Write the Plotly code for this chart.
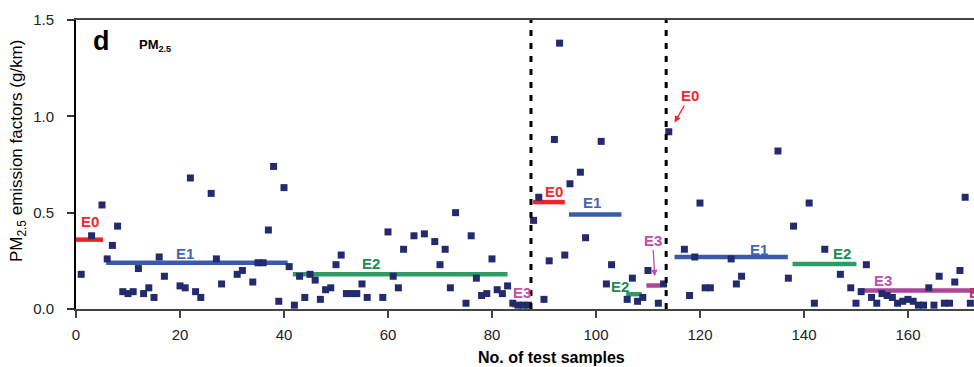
import plotly.graph_objects as go

# ---- data ----
x_samples = [1, 3, 5, 6, 7, 8, 9, 10, 11, 12, 13, 14, 15, 16, 17, 20, 21, 22, 23, 24,
             26, 27, 28, 31, 32, 34, 35, 36, 37, 38, 39, 40, 41, 42, 43, 44, 45, 46, 47, 48,
             49, 50, 51, 52, 53, 54, 55, 56, 59, 60, 61, 62, 63, 65, 67, 69, 70, 71, 72, 73,
             75, 76, 77, 78, 79, 80, 81, 82, 83, 84, 85, 86, 87, 88, 89, 90, 91, 92, 93, 94,
             95, 97, 98, 101, 102, 103, 106, 107, 108, 109, 110, 112, 113, 114, 117, 118, 119, 120, 121, 122,
             126, 127, 128, 135, 137, 138, 141, 142, 144, 147, 149, 150, 151, 152, 153, 154, 155, 156, 157, 158,
             159, 160, 161, 162, 163, 164, 165, 166, 167, 168, 169, 170, 171, 172]
ef_pm25 = [0.18, 0.38, 0.54, 0.26, 0.33, 0.43, 0.09, 0.08, 0.09, 0.21, 0.08, 0.11, 0.06, 0.27, 0.17, 0.12, 0.11, 0.68, 0.09, 0.06,
           0.60, 0.26, 0.13, 0.18, 0.20, 0.14, 0.24, 0.24, 0.41, 0.74, 0.04, 0.63, 0.22, 0.02, 0.17, 0.06, 0.18, 0.15, 0.05, 0.10,
           0.11, 0.23, 0.28, 0.08, 0.08, 0.08, 0.13, 0.06, 0.06, 0.40, 0.17, 0.11, 0.31, 0.38, 0.39, 0.35, 0.23, 0.31, 0.11, 0.50,
           0.03, 0.38, 0.16, 0.07, 0.08, 0.26, 0.10, 0.08, 0.12, 0.03, 0.02, 0.02, 0.02, 0.46, 0.58, 0.05, 0.25, 0.88, 1.38, 0.28,
           0.65, 0.71, 0.37, 0.87, 0.13, 0.23, 0.05, 0.16, 0.04, 0.06, 0.20, 0.03, 0.13, 0.92, 0.31, 0.07, 0.27, 0.55, 0.11, 0.11,
           0.26, 0.13, 0.17, 0.82, 0.16, 0.43, 0.55, 0.03, 0.31, 0.18, 0.11, 0.03, 0.09, 0.23, 0.06, 0.03, 0.08, 0.07, 0.06, 0.03,
           0.04, 0.05, 0.04, 0.02, 0.02, 0.11, 0.02, 0.17, 0.03, 0.03, 0.14, 0.20, 0.58, 0.03]

# mean level segments per emission standard
seg_level = ["E0", "E1", "E2", "E3", "E0", "E1", "E2", "E3", "E1", "E2", "E3"]
seg_x0 = [-0.3, 5.8, 41.7, 83.8, 87.9, 94.8, 105.8, 109.7, 115.1, 137.8, 150.8]
seg_x1 = [5.2, 40.7, 83.0, 87.3, 94.0, 104.9, 108.8, 112.4, 136.9, 150.1, 176.0]
seg_y = [0.36, 0.24, 0.18, 0.02, 0.555, 0.49, 0.077, 0.122, 0.27, 0.234, 0.096]

# segment labels
lab_text = ["E0", "E1", "E2", "E3", "E0", "E1", "E2", "E1", "E2", "E3"]
lab_x = [2.6, 21.0, 56.8, 85.8, 91.9, 99.2, 104.6, 131.4, 147.3, 155.2]
lab_y = [0.454, 0.29, 0.234, 0.086, 0.612, 0.552, 0.116, 0.31, 0.286, 0.146]

# arrow labels: text position and arrow tip
arr_text = ["E3", "E0"]
arr_tx = [110.9, 118.1]
arr_ty = [0.358, 1.106]
arr_hx = [111.3, 115.1]
arr_hy = [0.17, 0.968]

divider_x = [87.5, 113.5]
x_ticks = [0, 20, 40, 60, 80, 100, 120, 140, 160]
y_ticks = [0.0, 0.5, 1.0, 1.5]
y_ticktext = ["0.0", "0.5", "1.0", "1.5"]

line_col = {"E0": "#ee2328", "E1": "#3b5ba8", "E2": "#2f9a63", "E3": "#a8469a"}
text_col = {"E0": "#f0262e", "E1": "#4764b2", "E2": "#1e8c4e", "E3": "#c050a8"}

FONT = "Liberation Sans, Arial, sans-serif"

fig = go.Figure()

for lv, a, b, yv in zip(seg_level, seg_x0, seg_x1, seg_y):
    fig.add_trace(go.Scatter(x=[a, b], y=[yv, yv], mode="lines",
                             line=dict(color=line_col[lv], width=4.5),
                             cliponaxis=False, showlegend=False, hoverinfo="skip"))

fig.add_trace(go.Scatter(x=x_samples, y=ef_pm25, mode="markers",
                         marker=dict(symbol="square", size=7, color="#232a6e",
                                     line=dict(width=0)),
                         cliponaxis=False, showlegend=False))

for xv in divider_x:
    fig.add_shape(type="line", xref="x", yref="y", x0=xv, x1=xv, y0=0, y1=1.53,
                  line=dict(color="black", width=3, dash="6px,7px"))

for t, xv, yv in zip(lab_text, lab_x, lab_y):
    fig.add_annotation(x=xv, y=yv, xref="x", yref="y", text="<b>%s</b>" % t, showarrow=False,
                       font=dict(family=FONT, size=15, color=text_col[t]),
                       xanchor="center", yanchor="middle")

for t, tx, ty, hx, hy in zip(arr_text, arr_tx, arr_ty, arr_hx, arr_hy):
    fig.add_annotation(x=hx, y=hy, ax=tx, ay=ty, xref="x", yref="y", axref="x", ayref="y",
                       text="<b>%s</b>" % t, showarrow=True, arrowhead=2, arrowsize=1, arrowwidth=1.3,
                       arrowcolor=line_col[t] if t != "E3" else "#c050a8",
                       font=dict(family=FONT, size=15, color=text_col[t]))

# partially visible label at the right edge (cut off in the reference as well)
fig.add_annotation(x=171.3, y=0.085, xref="x", yref="y", text="<b>E0</b>", showarrow=False,
                   xanchor="left", yanchor="middle",
                   font=dict(family=FONT, size=15, color="#c0306a"))

# panel letter and species
fig.add_annotation(x=101, y=41, xref="x domain", yref="paper", text="<b>d</b>", showarrow=False,
                   font=dict(family=FONT, size=27, color="black"))
fig.add_annotation(x=0, y=0, xref="paper", yref="paper", text="<b>PM<sub>2.5</sub></b>", showarrow=False,
                   font=dict(family=FONT, size=13, color="black"))

fig.update_layout(
    width=974, height=367,
    margin=dict(l=76, r=0, t=19.5, b=57.5),
    paper_bgcolor="white", plot_bgcolor="white",
    font=dict(family=FONT, color="#222"),
    xaxis=dict(range=[0, 172.7], tickvals=x_ticks, showgrid=False, zeroline=False,
               showline=True, linecolor="#444", linewidth=2, mirror=True,
               ticks="outside", ticklen=7, tickwidth=1.5, tickcolor="#444",
               tickfont=dict(family=FONT, size=15, color="#222"), ticklabelstandoff=4),
    yaxis=dict(range=[0, 1.5], tickvals=y_ticks, ticktext=y_ticktext, showgrid=False, zeroline=False,
               showline=True, linecolor="black", linewidth=2,
               ticks="outside", ticklen=7, tickwidth=1.5, tickcolor="#333",
               tickfont=dict(family=FONT, size=15, color="#222"), ticklabelstandoff=10),
)

# fix positions of panel letter / species / axis titles in pixel terms
L, T, PW, PH = 76.0, 19.5, 898.0, 290.0
def px(xp):
    return (xp - L) / PW
def py(yp):
    return (T + PH - yp) / PH

anns = list(fig.layout.annotations)
anns[-2].update(xref="paper", x=px(101), y=py(41), xanchor="center", yanchor="middle")
anns[-1].update(xref="paper", x=px(155), y=py(45), xanchor="center", yanchor="middle")
fig.layout.annotations = anns

fig.add_annotation(xref="paper", yref="paper", x=px(18), y=py(151), textangle=-90,
                   text="PM<sub>2.5</sub> emission factors (g/km)", showarrow=False,
                   xanchor="center", yanchor="middle",
                   font=dict(family=FONT, size=17, color="black"))
fig.add_annotation(xref="paper", yref="paper", x=px(551), y=py(358),
                   text="<b>No. of test samples</b>", showarrow=False,
                   xanchor="center", yanchor="middle",
                   font=dict(family=FONT, size=16, color="black"))

fig.write_html("out.html")
